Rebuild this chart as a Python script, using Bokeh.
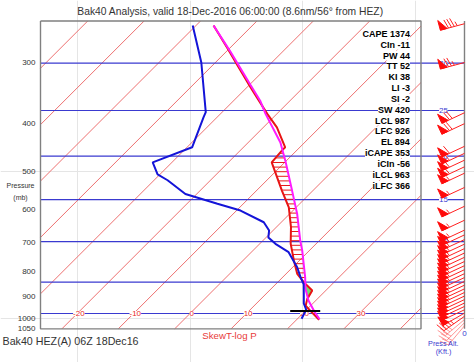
import numpy as np
from bokeh.plotting import figure
from bokeh.models import Range1d, LogScale
from bokeh.embed import file_html
from bokeh.resources import INLINE
from bokeh.core.properties import value

# ------------------------------------------------------------------ data
title_text = "Bak40 Analysis, valid 18-Dec-2016 06:00:00 (8.6nm/56\u00b0 from HEZ)"
footer_text = "Bak40 HEZ(A) 06Z 18Dec16"
diagram_name = "SkewT-log P"

pressure_ticks = [300, 400, 500, 600, 700, 800, 900, 1000, 1050]
isotherm_temps = [-80, -70, -60, -50, -40, -30, -20, -10, 0, 10, 20, 30, 40]
isotherm_label_temps = [-20, -10, 0, 10, 20, 30]

alt_kft = [30, 25, 20, 15, 10, 5, 1]
alt_p = [301, 376, 466, 572, 697, 843, 977]

temp_p = [252, 281, 304, 337, 382, 407, 447, 454, 480, 503, 548, 593, 651,
          704, 761, 811, 843, 877, 912, 941, 964, 1006]
temp_t = [-46.9, -40.3, -35.6, -29.4, -21.7, -17.6, -12.6, -12.6, -12.3, -9.9,
          -5.5, -1.3, 2.6, 5.5, 9.0, 12.0, 14.6, 17.6, 18.2, 19.1, 20.8, 24.0]

dew_p = [252, 300, 379, 388, 447, 480, 508, 522, 557, 583, 602, 636, 661, 683,
         704, 732, 786, 824, 852, 898, 932, 959, 1001]
dew_t = [-50.6, -42.5, -32.9, -32.4, -29.1, -33.4, -30.4, -27.6, -22.0, -14.6,
         -9.3, -3.1, -0.7, 0.4, 2.8, 6.6, 10.8, 13.2, 15.0, 17.0, 18.4, 19.9, 20.7]

parcel_p = [252, 284, 334, 359, 382, 437, 476, 548, 611, 693, 726, 824, 868,
            919, 968, 1004]
parcel_t = [-46.9, -39.5, -29.7, -25.3, -22.0, -14.3, -10.2, -3.7, 1.3, 6.6,
            8.7, 14.0, 16.0, 18.7, 21.7, 24.0]

sfc_p = 966
sfc_t = 20.0

wind_p = [250, 300, 380, 400, 445, 460, 475, 490, 505, 540, 590, 630, 660,
          675, 690, 705, 720, 735, 750, 765, 780, 795, 810, 825, 840, 855,
          870, 885, 900, 915, 930, 945, 960, 975, 990, 1005, 1020, 1035]
wind_spd = [85, 75, 70, 70, 60, 60, 60, 60, 55, 55, 55, 55, 55,
            55, 55, 55, 55, 55, 55, 55, 55, 55, 55, 55, 55, 55,
            55, 55, 55, 50, 50, 50, 50, 50, 45, 35, 30, 25]
wind_dir = [255, 255, 245, 245, 245, 245, 245, 245, 245, 245, 245, 245, 245,
            245, 245, 245, 245, 245, 245, 245, 245, 245, 245, 245, 245, 245,
            245, 245, 245, 245, 245, 245, 245, 240, 235, 230, 225, 220]

index_labels = ["CAPE 1374", "CIn -11", "PW 44", "TT 52", "KI 38", "LI -3",
                "SI -2", "SW 420", "LCL 987", "LFC 926", "EL 894",
                "iCAPE 353", "iCIn -56", "iLCL 963", "iLFC 366"]

# ------------------------------------------------------------------ layout
W, H = 474, 362
PX0 = 189.5          # pixel x of 0 C at P_REF
PX_PER_C = 5.64
PY_PER_LN = 212.6
P_REF = 977.0
K = PY_PER_LN / PX_PER_C
FONT = value("Liberation Sans")


def rx(px):
    return (px - PX0) / PX_PER_C


def rp(py):
    return 300.0 * np.exp((py - 62.0) / PY_PER_LN)


def sx(t, pr):
    return np.asarray(t, dtype=float) - K * np.log(np.asarray(pr, dtype=float) / P_REF)


BOX_L, BOX_R = rx(40), rx(420.5)
BOX_TOP_P, BOX_BOT_P = rp(20.5), 1050.0
X_ST = rx(464)

p = figure(width=W, height=H,
           x_range=Range1d(rx(0), rx(W)),
           y_range=Range1d(rp(H), rp(0)),
           y_axis_type="log", x_axis_location=None, y_axis_location=None,
           toolbar_location=None, output_backend="svg", min_border=0,
           outline_line_color=None)
p.y_scale = LogScale()

# isotherms
iso_xs, iso_ys = [], []
for t in isotherm_temps:
    p_hi = min(BOX_BOT_P, P_REF * np.exp((t - BOX_L) / K))
    p_lo = max(BOX_TOP_P, P_REF * np.exp((t - BOX_R) / K))
    if p_lo < p_hi:
        iso_xs.append([float(sx(t, p_hi)), float(sx(t, p_lo))])
        iso_ys.append([float(p_hi), float(p_lo)])
p.multi_line(iso_xs, iso_ys, line_color="#ee7070", line_width=1)

# altitude lines
p.multi_line([[BOX_L, X_ST] for _ in alt_p], [[a, a] for a in alt_p],
             line_color="#3a3ad0", line_width=1.2)

# frame box and barb axis
p.line([BOX_L, BOX_R, BOX_R, BOX_L, BOX_L],
       [BOX_TOP_P, BOX_TOP_P, BOX_BOT_P, BOX_BOT_P, BOX_TOP_P],
       line_color="#808080", line_width=1.4)
p.line([X_ST, X_ST], [BOX_TOP_P, BOX_BOT_P], line_color="#808080", line_width=1.4)

# isotherm labels
p.text(x=[t + 0.3 for t in isotherm_label_temps], y=[P_REF] * len(isotherm_label_temps),
       text=[str(t) for t in isotherm_label_temps], text_font=FONT,
       text_font_size="8px", text_color="#e82828", text_align="center",
       text_baseline="middle", background_fill_color="white")

# altitude labels
p.text(x=[rx(443)] * len(alt_kft), y=alt_p, text=[str(a) for a in alt_kft],
       text_font=FONT, text_font_size="8px", text_color="#3a3ad0",
       text_align="center", text_baseline="middle", background_fill_color="white")
p.text(x=[X_ST], y=[rp(333)], text=["0"], text_font=FONT, text_font_size="8px",
       text_color="#3a3ad0", text_align="center", text_baseline="middle")

# CIN (green) and CAPE hatch
lg = np.linspace(np.log(830), np.log(930), 200)
te_g = np.interp(lg, np.log(temp_p), temp_t)
tp_g = np.interp(lg, np.log(parcel_p), parcel_t)
m = te_g > tp_g
if m.any():
    gp = np.exp(lg[m])
    gx = list(sx(te_g[m], gp)) + list(sx(tp_g[m], gp)[::-1])
    gy = list(gp) + list(gp[::-1])
    p.patch(gx, gy, fill_color="#6ee06e", line_color="#6ee06e", line_width=1)

lh = np.arange(np.log(450), np.log(845), 4.6 / PY_PER_LN)
te_h = np.interp(lh, np.log(temp_p), temp_t)
tp_h = np.interp(lh, np.log(parcel_p), parcel_t)
hx, hy = [], []
for l, a, b in zip(lh, te_h, tp_h):
    if b > a:
        pp = float(np.exp(l))
        hx.append([float(sx(a, pp)), float(sx(b, pp))])
        hy.append([pp, pp])
p.multi_line(hx, hy, line_color="#e81a1a", line_width=1)

# profiles
p.line(sx(temp_t, temp_p), temp_p, line_color="#e81414", line_width=2)
p.line(sx(parcel_t, parcel_p), parcel_p, line_color="#ff1aff", line_width=2)
p.line(sx(dew_t, dew_p), dew_p, line_color="#1414d8", line_width=2)
sx_s = float(sx(sfc_t, sfc_p))
p.line([sx_s - 2.66, sx_s + 2.66], [sfc_p, sfc_p], line_color="black", line_width=2)

# wind barbs
STAFF, FW, FH, BH, SP = 25.0, 7.0, 10.0, 9.0, 3.0
fl_xs, fl_ys, ln_xs, ln_ys, pl_xs, pl_ys = [], [], [], [], [], []
for wp, ws, wd in zip(wind_p, wind_spd, wind_dir):
    th = np.radians(wd)
    d = np.array([np.sin(th), -np.cos(th)])
    n = np.array([-d[1], d[0]])

    def conv(v, wp=wp):
        return X_ST + v[0] / PX_PER_C, wp * np.exp(v[1] / PY_PER_LN)

    segs = [[np.zeros(2), d * STAFF]]
    flags = []
    pos = STAFF
    rem = ws + 2.5
    nf = int(rem // 50); rem -= nf * 50
    nb = int(rem // 10); rem -= nb * 10
    nh = int(rem // 5)
    for _ in range(nf):
        flags.append([d * pos, d * (pos - FW), d * pos + n * FH])
        pos -= FW + 1.5
    for _ in range(nb):
        segs.append([d * pos, d * (pos + 2.5) + n * BH]); pos -= SP
    for _ in range(nh):
        segs.append([d * pos, d * (pos + 1.25) + n * BH / 2]); pos -= SP
    pale = wp > 1000
    for s in segs:
        a, b = conv(s[0]), conv(s[1])
        (pl_xs if pale else ln_xs).append([a[0], b[0]])
        (pl_ys if pale else ln_ys).append([a[1], b[1]])
    for f in flags:
        pts = [conv(v) for v in f]
        fl_xs.append([q[0] for q in pts]); fl_ys.append([q[1] for q in pts])

p.multi_line(pl_xs, pl_ys, line_color="#ff5050", line_alpha=0.6, line_width=1)
p.multi_line(ln_xs, ln_ys, line_color="#ff2020", line_width=1)
p.patches(fl_xs, fl_ys, fill_color="#ff0a0a", line_color="#ff0a0a", line_width=1)

# stability indices
p.text(x=[rx(409.5)] * len(index_labels),
       y=[float(rp(33.3 + 10.85 * i)) for i in range(len(index_labels))],
       text=index_labels, text_font=FONT, text_font_size="9px",
       text_font_style="bold", text_color="black", text_align="right",
       text_baseline="middle", background_fill_color="white")

# pressure tick labels
p.text(x=[rx(35)] * len(pressure_ticks), y=pressure_ticks,
       text=[str(v) for v in pressure_ticks], text_font=FONT, text_font_size="8px",
       text_color="#333333", text_align="right", text_baseline="middle")
p.text(x=[rx(20), rx(20)], y=[rp(185), rp(197)], text=["Pressure", "(mb)"],
       text_font=FONT, text_font_size="7px", text_color="#333333",
       text_align="center", text_baseline="middle")

# titles
p.text(x=[rx(230)], y=[rp(11)], text=[title_text], text_font=FONT,
       text_font_size="10.3px", text_color="#333333", text_align="center",
       text_baseline="middle")
p.text(x=[rx(2)], y=[rp(340)], text=[footer_text], text_font=FONT,
       text_font_size="10.7px", text_color="#333333", text_align="left",
       text_baseline="middle")
p.text(x=[rx(229)], y=[rp(335)], text=[diagram_name], text_font=FONT,
       text_font_size="9.7px", text_color="#e83a3a", text_align="center",
       text_baseline="middle")
p.text(x=[rx(443), rx(443)], y=[rp(343), rp(351)], text=["Press Alt.", "(Kft.)"],
       text_font=FONT, text_font_size="7.2px", text_color="#3a3ad0",
       text_align="center", text_baseline="middle")

open("out.html", "w").write(file_html(p, INLINE))
